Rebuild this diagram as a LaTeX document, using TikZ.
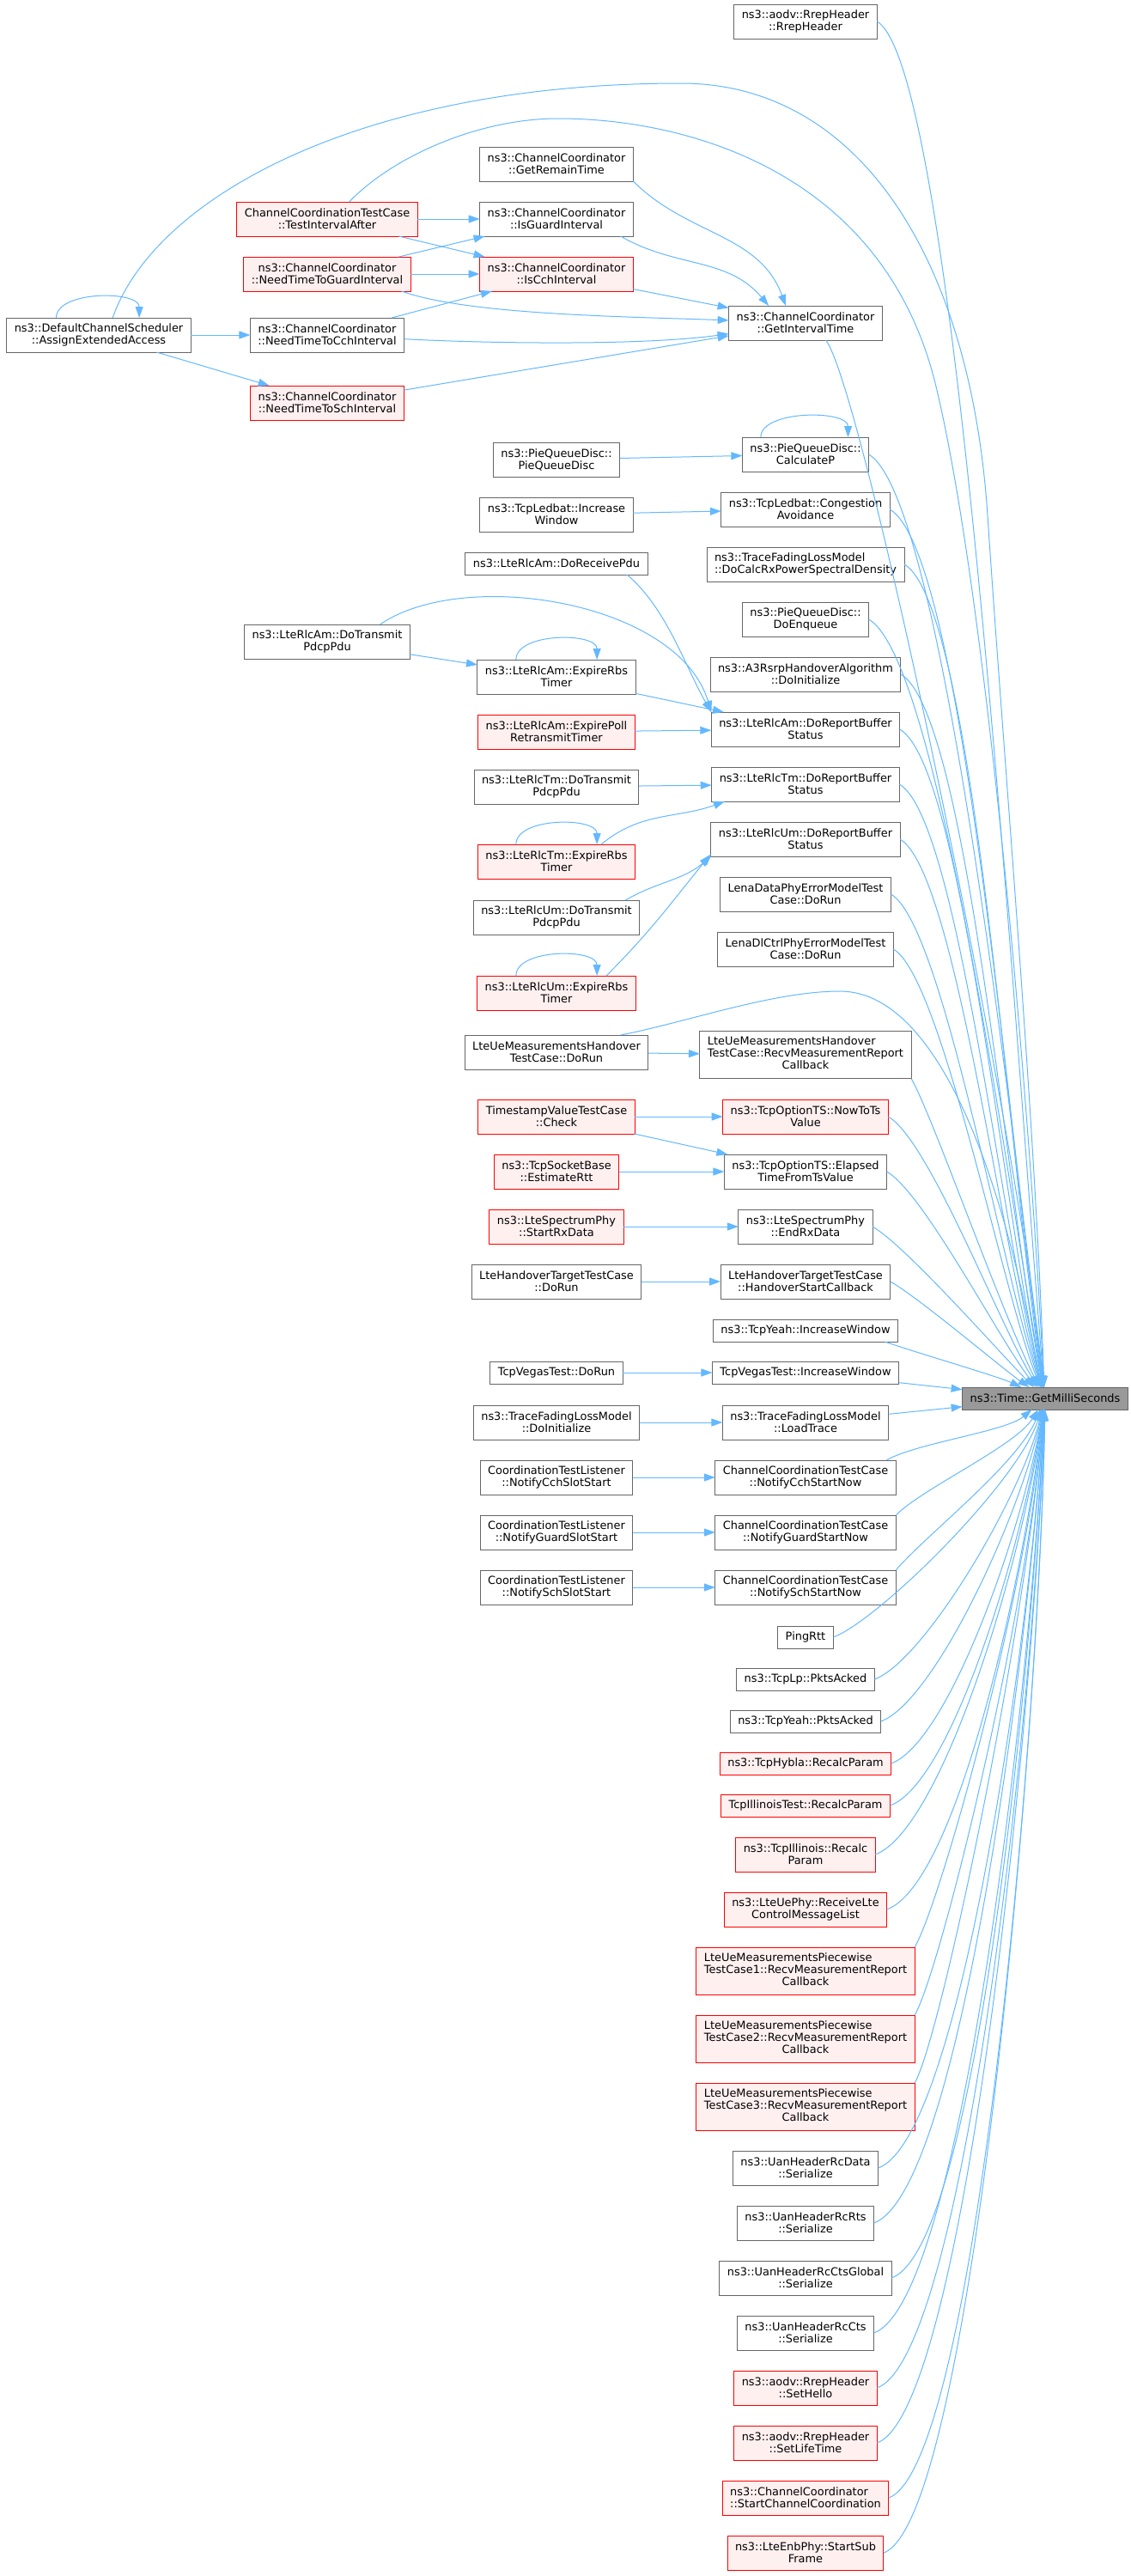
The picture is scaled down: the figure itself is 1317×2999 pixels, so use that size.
\documentclass[tikz,border=0pt]{standalone}
\usepackage{fontspec}
\setmainfont{DejaVu Sans}
\usetikzlibrary{positioning, arrows.meta}
\definecolor{edgeblue}{HTML}{63B8FF}
\definecolor{boxgray}{HTML}{666666}
\definecolor{redfill}{HTML}{FFF0F0}
\definecolor{tgtfill}{HTML}{999999}
\newcommand{\threel}[3]{\begin{tabular}{@{}l@{}}#1\\#2\\\multicolumn{1}{@{}c@{}}{#3}\end{tabular}}
\tikzset{
->, % every connector is a call
>={Triangle[length=13bp,width=9bp]}, % filled heads like dot
x=1bp, y=1bp,
node distance=290bp, % caller column to callee column, center to center
fn/.style={draw=boxgray, fill=white, line width=1bp, font=\fontsize{12.9bp}{14bp}\selectfont,
  align=center, inner xsep=9bp, inner ysep=3bp, minimum height=26bp, outer sep=0pt},
fnred/.style={fn, draw=red, fill=redfill},
fntgt/.style={fn, fill=tgtfill},
twoline/.style={minimum height=40bp},
threeline/.style={minimum height=55bp},
call/.style={color=edgeblue, line width=1bp},
fanto/.style n args={4}{to path={.. controls +(#1:#2) and +(#3:#4) .. (\tikztotarget)}},
selfloop/.style={out=90, in=90, distance=32bp},
}

\begin{document}
\begin{tikzpicture}
\useasboundingbox (0,0) rectangle (1317,-2999);

% the callee
\node[fntgt] (tgt) at (1217,-1628) {ns3::Time::GetMilliSeconds};

% channel coordinator
\node[fn, twoline] (aea) at (115,-390) {ns3::DefaultChannelScheduler\\::AssignExtendedAccess};
\node[fnred, twoline] (tia) at (381,-255) {ChannelCoordinationTestCase\\::TestIntervalAfter};
\node[fnred, twoline] (ntg) at (381,-319) {ns3::ChannelCoordinator\\::NeedTimeToGuardInterval};
\node[fn, twoline] (ntc) at (381,-390) {ns3::ChannelCoordinator\\::NeedTimeToCchInterval};
\node[fnred, twoline] (nts) at (381,-469) {ns3::ChannelCoordinator\\::NeedTimeToSchInterval};
\node[fn, twoline] (grt) at (648,-191) {ns3::ChannelCoordinator\\::GetRemainTime};
\node[fn, twoline] (igi) at (648,-255) {ns3::ChannelCoordinator\\::IsGuardInterval};
\node[fnred, twoline] (ici) at (648,-319) {ns3::ChannelCoordinator\\::IsCchInterval};

% direct callers, upper part
\node[fn, twoline] (rrep) at (938,-25) {ns3::aodv::RrepHeader\\::RrepHeader};
\node[fn, twoline] (git) at (938,-376) {ns3::ChannelCoordinator\\::GetIntervalTime};
\node[fn, twoline] (calcp) at (938,-529) {ns3::PieQueueDisc::\\CalculateP};
\node[fn, twoline, below=24bp of calcp] (congav) {ns3::TcpLedbat::Congestion\\Avoidance};
\node[fn, twoline, below=24bp of congav, align=left] (calcrx) {ns3::TraceFadingLossModel\\::DoCalcRxPowerSpectralDensity};
\node[fn, twoline, below=24bp of calcrx] (enq) {ns3::PieQueueDisc::\\DoEnqueue};
\node[fn, twoline, below=24bp of enq] (a3) {ns3::A3RsrpHandoverAlgorithm\\::DoInitialize};
\node[fn, twoline, below=24bp of a3] (amrep) {ns3::LteRlcAm::DoReportBuffer\\Status};
\node[fn, twoline, below=24bp of amrep] (tmrep) {ns3::LteRlcTm::DoReportBuffer\\Status};
\node[fn, twoline, below=24bp of tmrep] (umrep) {ns3::LteRlcUm::DoReportBuffer\\Status};
\node[fn, twoline, below=24bp of umrep] (lenad) {LenaDataPhyErrorModelTest\\Case::DoRun};
\node[fn, twoline, below=24bp of lenad] (lenac) {LenaDlCtrlPhyErrorModelTest\\Case::DoRun};
\node[fn, threeline] (hrecv) at (938,-1228) {\threel{LteUeMeasurementsHandover}{TestCase::RecvMeasurementReport}{Callback}};
\node[fnred, twoline] (nowts) at (938,-1300) {ns3::TcpOptionTS::NowToTs\\Value};
\node[fn, twoline, below=24bp of nowts] (elap) {ns3::TcpOptionTS::Elapsed\\TimeFromTsValue};
\node[fn, twoline, below=24bp of elap] (erx) {ns3::LteSpectrumPhy\\::EndRxData};
\node[fn, twoline, below=24bp of erx] (htcb) {LteHandoverTargetTestCase\\::HandoverStartCallback};
\node[fn, below=24bp of htcb] (yeahiw) {ns3::TcpYeah::IncreaseWindow};
\node[fn, below=23bp of yeahiw] (vegiw) {TcpVegasTest::IncreaseWindow};
\node[fn, twoline, below=25bp of vegiw] (loadtr) {ns3::TraceFadingLossModel\\::LoadTrace};

% direct callers, lower part
\node[fn, twoline, below=24bp of loadtr] (ncch) {ChannelCoordinationTestCase\\::NotifyCchStartNow};
\node[fn, twoline, below=24bp of ncch] (ngrd) {ChannelCoordinationTestCase\\::NotifyGuardStartNow};
\node[fn, twoline, below=24bp of ngrd] (nsch) {ChannelCoordinationTestCase\\::NotifySchStartNow};
\node[fn, below=25bp of nsch] (ping) {PingRtt};
\node[fn, below=23bp of ping] (lpack) {ns3::TcpLp::PktsAcked};
\node[fn, below=23bp of lpack] (yeahack) {ns3::TcpYeah::PktsAcked};
\node[fnred, below=23bp of yeahack] (hybla) {ns3::TcpHybla::RecalcParam};
\node[fnred, below=23bp of hybla] (illt) {TcpIllinoisTest::RecalcParam};
\node[fnred, twoline, below=24bp of illt] (ill) {ns3::TcpIllinois::Recalc\\Param};
\node[fnred, twoline, below=24bp of ill] (uephy) {ns3::LteUePhy::ReceiveLte\\ControlMessageList};
\node[fnred, threeline, below=24bp of uephy] (pw1) {\threel{LteUeMeasurementsPiecewise}{TestCase1::RecvMeasurementReport}{Callback}};
\node[fnred, threeline, below=24bp of pw1] (pw2) {\threel{LteUeMeasurementsPiecewise}{TestCase2::RecvMeasurementReport}{Callback}};
\node[fnred, threeline, below=24bp of pw2] (pw3) {\threel{LteUeMeasurementsPiecewise}{TestCase3::RecvMeasurementReport}{Callback}};
\node[fn, twoline, below=24bp of pw3] (uand) {ns3::UanHeaderRcData\\::Serialize};
\node[fn, twoline, below=24bp of uand] (uanr) {ns3::UanHeaderRcRts\\::Serialize};
\node[fn, twoline, below=24bp of uanr] (uancg) {ns3::UanHeaderRcCtsGlobal\\::Serialize};
\node[fn, twoline, below=24bp of uancg] (uanc) {ns3::UanHeaderRcCts\\::Serialize};
\node[fnred, twoline, below=24bp of uanc] (hello) {ns3::aodv::RrepHeader\\::SetHello};
\node[fnred, twoline, below=24bp of hello] (life) {ns3::aodv::RrepHeader\\::SetLifeTime};
\node[fnred, twoline, below=24bp of life, align=left] (scc) {ns3::ChannelCoordinator\\::StartChannelCoordination};
\node[fnred, twoline, below=24bp of scc] (sub) {ns3::LteEnbPhy::StartSub\\Frame};

% callers of the callers
\node[fn, twoline, left of=calcp, yshift=-6bp] (pqd) {ns3::PieQueueDisc::\\PieQueueDisc};
\node[fn, twoline, left of=congav, yshift=-6bp] (ledw) {ns3::TcpLedbat::Increase\\Window};
\node[fn] (amrx) at (648,-656) {ns3::LteRlcAm::DoReceivePdu};
\node[fn, twoline] (amtx) at (381,-747) {ns3::LteRlcAm::DoTransmit\\PdcpPdu};
\node[fn, twoline] (amexp) at (648,-788) {ns3::LteRlcAm::ExpireRbs\\Timer};
\node[fnred, twoline, left of=amrep, yshift=-3bp] (ampoll) {ns3::LteRlcAm::ExpirePoll\\RetransmitTimer};
\node[fn, twoline, left of=tmrep, yshift=-3bp] (tmtx) {ns3::LteRlcTm::DoTransmit\\PdcpPdu};
\node[fnred, twoline] (tmexp) at (648,-1003) {ns3::LteRlcTm::ExpireRbs\\Timer};
\node[fn, twoline] (umtx) at (648,-1068) {ns3::LteRlcUm::DoTransmit\\PdcpPdu};
\node[fnred, twoline] (umexp) at (648,-1156) {ns3::LteRlcUm::ExpireRbs\\Timer};
\node[fn, twoline, left of=hrecv, yshift=3bp] (hdr) {LteUeMeasurementsHandover\\TestCase::DoRun};
\node[fnred, twoline, left of=nowts] (tsc) {TimestampValueTestCase\\::Check};
\node[fnred, twoline, left of=elap] (rtt) {ns3::TcpSocketBase\\::EstimateRtt};
\node[fnred, twoline, left of=erx] (srx) {ns3::LteSpectrumPhy\\::StartRxData};
\node[fn, twoline, left of=htcb] (htrun) {LteHandoverTargetTestCase\\::DoRun};
\node[fn, left of=vegiw] (vrun) {TcpVegasTest::DoRun};
\node[fn, twoline, left of=loadtr] (tfinit) {ns3::TraceFadingLossModel\\::DoInitialize};
\node[fn, twoline, left of=ncch] (lcch) {CoordinationTestListener\\::NotifyCchSlotStart};
\node[fn, twoline, left of=ngrd] (lgrd) {CoordinationTestListener\\::NotifyGuardSlotStart};
\node[fn, twoline, left of=nsch] (lsch) {CoordinationTestListener\\::NotifySchSlotStart};

% calls among the callers
\path[call]
  (aea.158) edge[selfloop] (aea.23)
  (aea) edge (ntc)
  (aea) edge (nts)
  (tia) edge (igi)
  (tia) edge (ici)
  (ntg) edge (igi)
  (ntg) edge (ici)
  (ntc) edge (ici)
  (ntg.-13) edge[out=-20, in=178, out distance=80bp, in distance=120bp] (git)
  (ntc) edge[out=-3, in=188, out distance=100bp, in distance=100bp] (git)
  (nts) edge (git)
  (grt.south east) edge[out=-45, in=110] (git.139)
  (igi.-15) edge[out=-30, in=130] (git.155)
  (ici) edge (git)
  (calcp.159) edge[selfloop] (calcp.22)
  (pqd) edge (calcp)
  (ledw) edge (congav)
  (amrx.-9) edge[out=-40, in=120, out distance=60bp, in distance=60bp] (amrep.north west)
  (amtx) edge (amexp)
  (amexp.157) edge[selfloop] (amexp.23)
  (amexp) edge (amrep)
  (ampoll) edge (amrep)
  (tmtx) edge (tmrep)
  (tmexp.157) edge[selfloop] (tmexp.23)
  (tmexp.21) edge[out=40, in=200] (tmrep.192)
  (umtx.14) edge[out=30, in=220] (umrep.south west)
  (umexp.157) edge[selfloop] (umexp.23)
  (umexp.19) edge[out=45, in=230, out distance=80bp, in distance=60bp] (umrep.189)
  (hdr) edge (hrecv)
  (tsc) edge (nowts)
  (tsc) edge (elap)
  (rtt) edge (elap)
  (srx) edge (erx)
  (htrun) edge (htcb)
  (vrun) edge (vegiw)
  (tfinit) edge (loadtr)
  (lcch) edge (ncch)
  (lgrd) edge (ngrd)
  (lsch) edge (nsch);

% long arcs
\draw[call] (aea.51) .. controls (180,-230) and (420,-97) .. (793,-97)
  .. controls (1000,-97) and (1130,-300) .. (1150,-600)
  .. controls (1170,-900) and (1205,-1300) .. (tgt.95);
\draw[call] (tia.38) .. controls (460,-180) and (560,-138) .. (650,-138)
  .. controls (800,-138) and (1030,-200) .. (1090,-450)
  .. controls (1150,-700) and (1200,-1300) .. (tgt.96);
\draw[call] (amtx.18) .. controls (540,-660) and (790,-700) .. (amrep.north west);
\draw[call] (hdr.15) .. controls (800,-1190) and (900,-1154) .. (978,-1154)
  .. controls (1100,-1154) and (1175,-1400) .. (tgt.112);

% calls into the callee
\path[call]
  (rrep.east) edge[fanto={-30}{110bp}{95}{350bp}] (tgt.95)
  (git.-40) edge[fanto={-55}{80bp}{96}{300bp}] (tgt.96)
  (calcp.east) edge[fanto={-30}{100bp}{97}{300bp}] (tgt.97)
  (congav.east) edge[fanto={-30}{100bp}{98}{280bp}] (tgt.98)
  (calcrx.east) edge[fanto={-30}{95bp}{99}{260bp}] (tgt.99)
  (enq.east) edge[fanto={-30}{95bp}{100}{240bp}] (tgt.100)
  (a3.east) edge[fanto={-30}{90bp}{101}{220bp}] (tgt.101)
  (amrep.east) edge[fanto={-30}{85bp}{103}{200bp}] (tgt.103)
  (tmrep.east) edge[fanto={-30}{80bp}{105}{180bp}] (tgt.105)
  (umrep.east) edge[fanto={-30}{75bp}{107}{160bp}] (tgt.107)
  (lenad.east) edge[fanto={-30}{70bp}{109}{140bp}] (tgt.109)
  (lenac.east) edge[fanto={-30}{65bp}{112}{120bp}] (tgt.112)
  (hrecv.south east) edge[fanto={-60}{50bp}{117}{100bp}] (tgt.117)
  (nowts.east) edge[fanto={-30}{55bp}{122}{85bp}] (tgt.122)
  (elap.east) edge[fanto={-30}{50bp}{128}{70bp}] (tgt.128)
  (erx.east) edge[fanto={-30}{45bp}{135}{55bp}] (tgt.135)
  (htcb.east) edge[fanto={-30}{40bp}{145}{40bp}] (tgt.145)
  (yeahiw.-8) edge[fanto={-20}{30bp}{155}{30bp}] (tgt.155)
  (vegiw) edge (tgt)
  (loadtr) edge (tgt)
  (ncch.12) edge[fanto={30}{40bp}{-140}{40bp}] (tgt.-140)
  (ngrd.north east) edge[fanto={45}{45bp}{-122}{50bp}] (tgt.-122)
  (nsch.north east) edge[fanto={50}{50bp}{-113}{70bp}] (tgt.-113)
  (ping.east) edge[fanto={20}{55bp}{-108}{90bp}] (tgt.-108)
  (lpack.east) edge[fanto={20}{60bp}{-104}{110bp}] (tgt.-104)
  (yeahack.east) edge[fanto={20}{65bp}{-102}{130bp}] (tgt.-102)
  (hybla.east) edge[fanto={20}{70bp}{-100}{150bp}] (tgt.-100)
  (illt.east) edge[fanto={20}{75bp}{-99}{170bp}] (tgt.-99)
  (ill.east) edge[fanto={20}{80bp}{-98}{190bp}] (tgt.-98)
  (uephy.east) edge[fanto={20}{85bp}{-97}{210bp}] (tgt.-97)
  (pw1.north east) edge[fanto={60}{60bp}{-96}{230bp}] (tgt.-96)
  (pw2.north east) edge[fanto={60}{60bp}{-95}{250bp}] (tgt.-95)
  (pw3.north east) edge[fanto={60}{60bp}{-95}{270bp}] (tgt.-95)
  (uand.east) edge[fanto={20}{100bp}{-94}{290bp}] (tgt.-94)
  (uanr.east) edge[fanto={20}{105bp}{-94}{300bp}] (tgt.-94)
  (uancg.east) edge[fanto={20}{105bp}{-93}{310bp}] (tgt.-93)
  (uanc.east) edge[fanto={20}{110bp}{-93}{320bp}] (tgt.-93)
  (hello.east) edge[fanto={20}{110bp}{-92}{330bp}] (tgt.-92)
  (life.east) edge[fanto={20}{110bp}{-92}{340bp}] (tgt.-92)
  (scc.east) edge[fanto={20}{110bp}{-91}{350bp}] (tgt.-91)
  (sub.east) edge[fanto={20}{110bp}{-91}{360bp}] (tgt.-91);
\end{tikzpicture}
\end{document}
